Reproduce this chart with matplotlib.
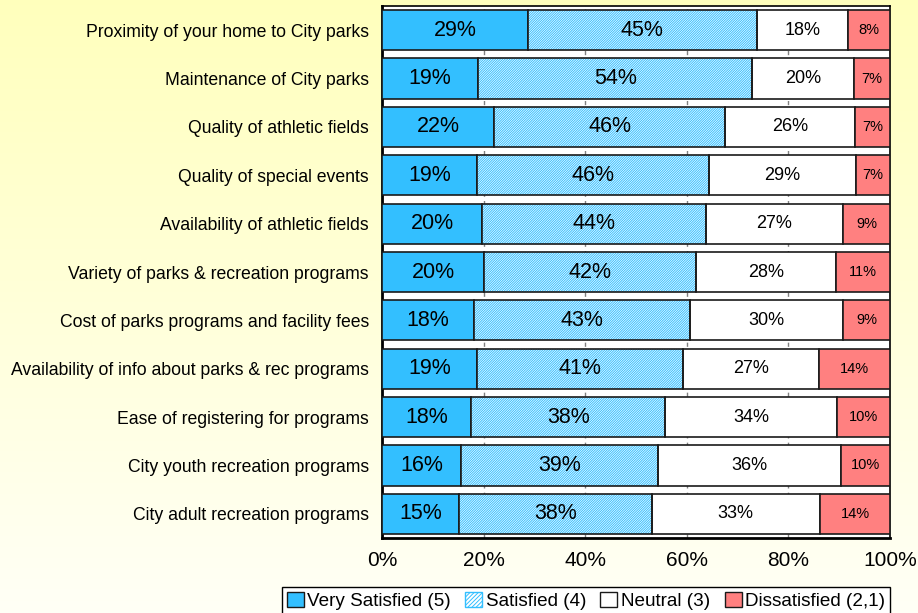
import numpy as np
import matplotlib.pyplot as plt
from matplotlib.patches import Patch

plt.rcParams['font.family'] = ['Liberation Sans', 'DejaVu Sans']
plt.rcParams['hatch.linewidth'] = 0.7

# survey items, top to bottom
items = [
    'Proximity of your home to City parks',
    'Maintenance of City parks',
    'Quality of athletic fields',
    'Quality of special events',
    'Availability of athletic fields',
    'Variety of parks & recreation programs',
    'Cost of parks programs and facility fees',
    'Availability of info about parks & rec programs',
    'Ease of registering for programs',
    'City youth recreation programs',
    'City adult recreation programs',
]

# percent of respondents
very_satisfied = [28.7, 18.9, 22.0, 18.7, 19.7, 20.1, 18.1, 18.7, 17.6, 15.6, 15.2]
satisfied = [45.1, 54.0, 45.6, 45.7, 44.1, 41.7, 42.6, 40.6, 38.1, 38.7, 37.9]
neutral = [17.9, 20.0, 25.6, 28.9, 26.9, 27.6, 30.0, 26.7, 33.9, 36.1, 33.1]
dissatisfied = [8.3, 7.1, 6.8, 6.7, 9.3, 10.6, 9.3, 14.0, 10.4, 9.6, 13.8]

series_names = ['Very Satisfied (5)', 'Satisfied (4)', 'Neutral (3)', 'Dissatisfied (2,1)']
x_ticks = [0, 20, 40, 60, 80, 100]

blue = '#33BFFF'
red = '#FF8080'
edge = '#1a1a1a'
hatch = '/' * 14

fig = plt.figure(figsize=(9.18, 6.13), dpi=100)

# yellow-to-white background
bg = fig.add_axes([0, 0, 1, 1], zorder=-10)
grad = np.linspace(0, 1, 256).reshape(-1, 1)
top_c = np.array([1.0, 1.0, 0.74])
bot_c = np.array([1.0, 1.0, 0.965])
img = top_c[None, None, :] * (1 - grad[:, :, None]) + bot_c[None, None, :] * grad[:, :, None]
bg.imshow(img, aspect='auto', extent=[0, 1, 0, 1])
bg.axis('off')

ax = fig.add_axes([382 / 918, 1 - 538 / 613, 508 / 918, 532 / 613])
ax.set_facecolor('white')

y = np.arange(len(items))
h = 0.83
vs = np.array(very_satisfied)
sa = np.array(satisfied)
ne = np.array(neutral)
di = np.array(dissatisfied)

ax.barh(y, vs, h, color=blue, edgecolor=edge, linewidth=1.2, zorder=3)
ax.barh(y, sa, h, left=vs, color='white', edgecolor=blue, hatch=hatch, linewidth=0, zorder=3)
ax.barh(y, sa, h, left=vs, fill=False, edgecolor=edge, linewidth=1.2, zorder=4)
ax.barh(y, ne, h, left=vs + sa, color='white', edgecolor=edge, linewidth=1.2, zorder=3)
ax.barh(y, di, h, left=vs + sa + ne, color=red, edgecolor=edge, linewidth=1.2, zorder=3)

for i in range(len(items)):
    ax.text(vs[i] / 2, y[i], f'{vs[i]:.0f}%', ha='center', va='center', fontsize=15.5, zorder=5)
    ax.text(vs[i] + sa[i] / 2, y[i], f'{sa[i]:.0f}%', ha='center', va='center', fontsize=15.5, zorder=5)
    ax.text(vs[i] + sa[i] + ne[i] / 2, y[i], f'{ne[i]:.0f}%', ha='center', va='center', fontsize=13, zorder=5)
    ax.text(vs[i] + sa[i] + ne[i] + di[i] / 2, y[i], f'{di[i]:.0f}%', ha='center', va='center', fontsize=10.5, zorder=5)

ax.set_xlim(0, 100)
ax.set_ylim(len(items) - 0.5, -0.5)
ax.set_yticks(y)
ax.set_yticklabels(items, fontsize=12.7)
ax.set_xticks(x_ticks)
ax.set_xticklabels([f'{t}%' for t in x_ticks], fontsize=15)
ax.tick_params(axis='both', length=0)
ax.tick_params(axis='y', pad=9.5)
ax.tick_params(axis='x', pad=9)

ax.xaxis.grid(True, color='#808080', linewidth=1, linestyle=(0, (3, 3)), zorder=0)
ax.set_axisbelow(True)
for s in ax.spines.values():
    s.set_color('black')
    s.set_linewidth(1.2)
ax.spines['left'].set_linewidth(2)
ax.spines['bottom'].set_linewidth(2)

handles = [
    Patch(facecolor=blue, edgecolor=edge, linewidth=1),
    Patch(facecolor='white', edgecolor=blue, hatch='/' * 8, linewidth=1),
    Patch(facecolor='white', edgecolor=edge, linewidth=1),
    Patch(facecolor=red, edgecolor=edge, linewidth=1),
]
leg = fig.legend(handles, series_names, loc='upper right', ncol=4,
                 bbox_to_anchor=(890 / 918, 1 - 587 / 613), fontsize=13.6,
                 frameon=True, fancybox=False, edgecolor='black', framealpha=1,
                 handlelength=0.9, handleheight=0.9, handletextpad=0.2,
                 columnspacing=0.75, borderpad=0.25, borderaxespad=0)
leg.get_frame().set_linewidth(1)

fig.savefig('out.png', dpi=100)
